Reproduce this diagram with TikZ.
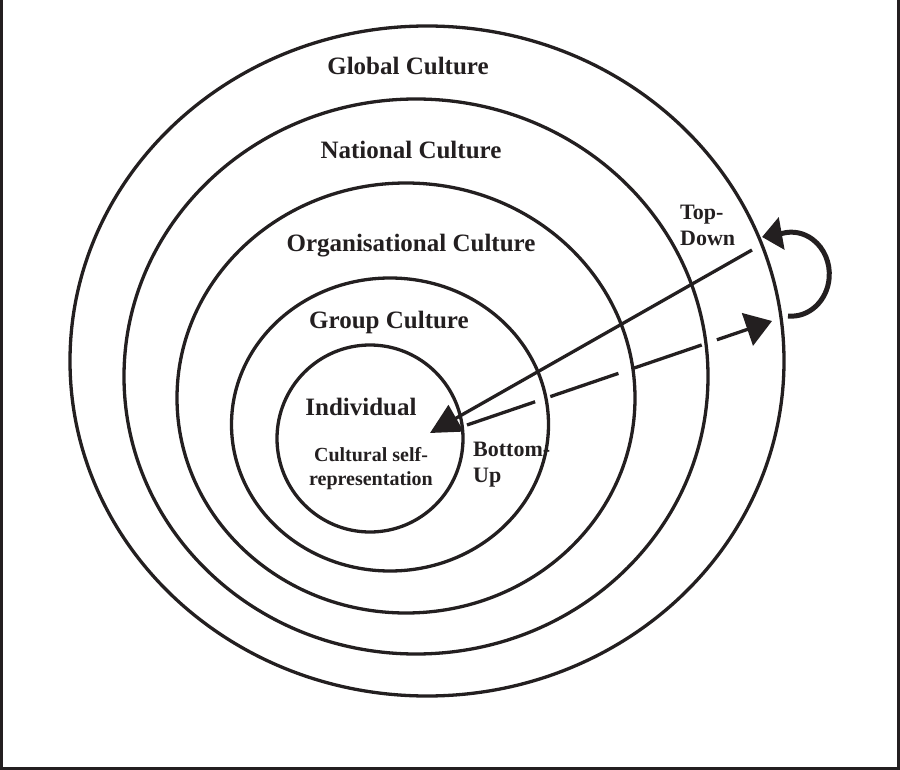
\documentclass[tikz,border=0pt]{standalone}
\usepackage{fontspec}
\setmainfont{Liberation Serif}
\usetikzlibrary{arrows.meta, shapes.geometric}
\definecolor{inkblack}{HTML}{231F20}
\tikzset{
  ring/.style={ellipse,draw=inkblack,line width=3.3pt,inner sep=0pt,outer sep=0pt},
  lvltext/.style={font=\bfseries\fontsize{25}{30}\selectfont,text=inkblack,inner sep=0pt},
  subtext/.style={font=\bfseries\fontsize{20}{24}\selectfont,text=inkblack,align=center,inner sep=0pt},
  dirtext/.style={font=\bfseries\fontsize{22}{26}\selectfont,text=inkblack,align=left,inner sep=0pt,anchor=west},
  frameline/.style={draw=inkblack,line width=3pt},
  topdown/.style={-{Triangle[length=30pt,width=30pt]},line width=3.3pt,draw=inkblack},
  bottomup/.style={topdown,-{Triangle[length=26pt,width=34pt]},dash pattern=on 72pt off 16pt},
  loopback/.style={-{Triangle[length=20pt,width=32pt]},line width=5pt,draw=inkblack},
}

\begin{document}
\begin{tikzpicture}[x=1pt,y=-1pt]
  \useasboundingbox (0,0) rectangle (900,770);
  \draw[frameline] (1.5,0) -- (1.5,768.5) -- (898.5,768.5) -- (898.5,0);

  \node[ring,minimum width=714pt,minimum height=670pt] (rGlobal) at (427,361) {};
  \node[ring,minimum width=584pt,minimum height=555pt] (rNational) at (416,376.5) {};
  \node[ring,minimum width=458pt,minimum height=430pt] (rOrg) at (406,398) {};
  \node[ring,minimum width=317pt,minimum height=293pt] (rGroup) at (390,424.5) {};
  \node[ring,minimum width=186pt,minimum height=187pt] (rIndiv) at (370,438.5) {};

  \node[lvltext] (tGlobal) at (408,66) {Global Culture};
  \node[lvltext] (tNational) at (411,150) {National Culture};
  \node[lvltext] (tOrg) at (411,246) {Organisational Culture};
  \node[lvltext] (tGroup) at (389,322) {Group Culture};
  \node[lvltext] (tIndiv) at (361,407) {Individual};
  \node[subtext] (tSelf) at (371,469) {Cultural self-\\representation};
  \node[dirtext] (tTop) at (680,225) {Top-\\Down};
  \node[dirtext] (tBottom) at (473,465) {Bottom-\\Up};

  \coordinate (tdTail) at (752,250);
  \coordinate (tdHead) at (430,433);
  \coordinate (buTail) at (467,425);
  \coordinate (buHead) at (772,321);
  \coordinate (lpStart) at (788,316);
  \coordinate (lpTip) at (762,237);
  \draw[topdown] (tdTail) -- (tdHead);
  \draw[bottomup] (buTail) -- (buHead);
  \draw[loopback] (lpStart) arc[start angle=95,end angle=-104,x radius=38,y radius=42] -- (lpTip);
\end{tikzpicture}
\end{document}
